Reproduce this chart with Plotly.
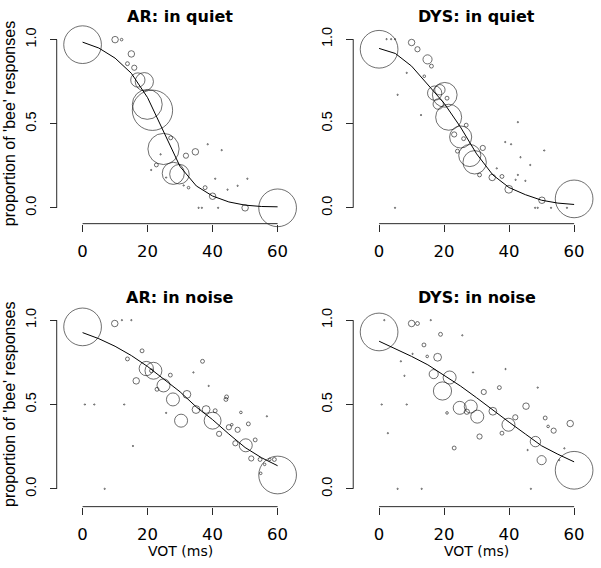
import plotly.graph_objects as go

# ---------------- data ----------------
vot_ticks = [0, 20, 40, 60]
vot_tick_labels = ["0", "20", "40", "60"]
prop_ticks = [0, 0.5, 1.0]
prop_tick_labels = ["0.0", "0.5", "1.0"]

panel_titles = ["AR: in quiet", "DYS: in quiet", "AR: in noise", "DYS: in noise"]
x_label = "VOT (ms)"
y_label = "proportion of 'bee' responses"

# AR in quiet: VOT, proportion, number of observations
ar_quiet_x = [0, 10, 12, 15, 13.8, 15.9, 17, 19, 19.9, 21.5, 24.9, 27.1, 24, 22.7, 21.1, 27.9, 29.8,
              31.8, 34.7, 32.6, 31.1, 25.7, 37.7, 40, 50, 60,
              35.7, 36.7, 38.5, 42.8, 40.8, 50.7, 44.6, 47.7, 41.7]
ar_quiet_y = [0.97, 1.0, 1.0, 0.915, 0.857, 0.833, 0.76, 0.75, 0.615, 0.58, 0.35, 0.416, 0.318, 0.255, 0.225, 0.205, 0.2,
              0.31, 0.333, 0.12, 0.133, 0.18, 0.12, 0.069, 0.0, 0.0,
              0.0, 0.0, 0.378, 0.343, 0.173, 0.173, 0.108, 0.131, 0.0]
ar_quiet_n = [29, 5, 2, 5, 3, 4, 11, 14, 23, 31, 24, 3, 1, 3, 1, 17, 15,
              4, 5, 2, 1, 1, 3, 5, 5, 29,
              1, 1, 1, 1, 1, 1, 1, 1, 1]

dys_quiet_x = [0, 2.3, 3.7, 4.9, 10, 11.8, 14.9, 16.1, 13.9, 8.5, 5.7, 17.1, 20.2, 18.7, 18.2, 20.9, 21.4,
               12.9, 26.8, 25.1, 23.1, 26, 27.9, 29.4, 24.1, 31.9, 30.9, 34.8, 37.8, 39.9,
               36.2, 38.8, 40.6, 42.7, 50.8, 43.5, 46.5, 42.7, 42, 45, 50.1, 48, 48.8, 52.9, 4.9, 57.8, 60]
dys_quiet_y = [0.94, 1.0, 1.0, 1.0, 0.98, 0.94, 0.88, 0.84, 0.78, 0.80, 0.67, 0.68, 0.67, 0.70, 0.615, 0.65, 0.537,
               0.55, 0.49, 0.42, 0.435, 0.41, 0.31, 0.27, 0.336, 0.355, 0.195, 0.18, 0.186, 0.11,
               0.234, 0.39, 0.377, 0.508, 0.34, 0.30, 0.254, 0.195, 0.166, 0.16, 0.045, 0.0, 0.0, 0.0, 0.0, 0.0, 0.053]
dys_quiet_n = [29, 1, 1, 1, 5, 4, 7, 3, 2, 1, 1, 11, 19, 8, 8, 3, 20,
               1, 3, 17, 4, 3, 17, 18, 3, 4, 3, 5, 3, 6,
               1, 1, 1, 1, 1, 1, 1, 1, 1, 1, 5, 1, 1, 1, 1, 1, 29]

ar_noise_x = [0, 9.9, 12.1, 15, 18.3, 13.8, 16.5, 19.6, 21.8, 21.2, 36.9, 34.1, 38.8, 27, 24.9, 22.9, 27.8,
              32.1, 30.3, 25.7, 34.9, 38, 40.8, 40, 44.1, 44.3, 42, 45, 45.9, 47.7, 48.7, 51, 47, 50.2,
              53.1, 51.9, 54.6, 56, 57.6, 59, 54.8, 56.7, 60, 0.7, 3.6, 12.8, 15.5, 6.8]
ar_noise_y = [0.96, 0.98, 1.0, 1.0, 0.818, 0.77, 0.64, 0.713, 0.70, 0.70, 0.756, 0.69, 0.61, 0.674, 0.613, 0.59, 0.53,
              0.56, 0.404, 0.45, 0.47, 0.47, 0.463, 0.404, 0.53, 0.545, 0.326, 0.365, 0.38, 0.35, 0.453, 0.385, 0.27, 0.258,
              0.29, 0.18, 0.174, 0.145, 0.174, 0.174, 0.092, 0.43, 0.082, 0.5, 0.5, 0.5, 0.254, 0.0]
ar_noise_n = [29, 5, 1, 1, 3, 3, 5, 11, 13, 3, 3, 1, 1, 3, 10, 3, 10,
              6, 10, 1, 6, 6, 3, 13, 3, 3, 4, 4, 2, 4, 2, 3, 4, 10,
              3, 4, 3, 2, 2, 3, 2, 1, 29, 1, 1, 1, 1, 1]

dys_noise_x = [0, 1.6, 10, 11.8, 15.9, 18.9, 25.6, 13.8, 14.8, 18, 10.3, 6.7, 7.8, 16.8, 21.7, 19.5, 28.9, 38.9,
               32.2, 37, 48.8, 24.8, 28.2, 27, 30.2, 20.9, 35, 45.2, 39.8, 41.9, 37.8, 30.9, 23.1, 51.1, 52,
               53.7, 58.8, 48.1, 50, 57, 55.4, 0.8, 8.5, 2.7, 5.7, 13.1, 46.7, 45.7, 60]
dys_noise_y = [0.93, 1.0, 0.98, 0.98, 1.0, 0.916, 0.91, 0.853, 0.785, 0.78, 0.80, 0.756, 0.67, 0.68, 0.66, 0.58, 0.69, 0.71,
               0.574, 0.60, 0.60, 0.48, 0.488, 0.457, 0.428, 0.45, 0.46, 0.49, 0.38, 0.424, 0.33, 0.31, 0.242, 0.42, 0.37,
               0.345, 0.387, 0.28, 0.17, 0.24, 0.17, 0.5, 0.5, 0.33, 0.0, 0.0, 0.0, 0.23, 0.11]
dys_noise_n = [29, 1, 5, 3, 1, 3, 1, 3, 2, 6, 1, 1, 1, 7, 10, 14, 1, 1,
               4, 3, 1, 10, 10, 4, 10, 2, 6, 5, 10, 4, 3, 4, 3, 3, 2,
               4, 5, 8, 7, 1, 1, 1, 1, 1, 1, 1, 1, 1, 29]

# fitted curves
curve_x = [0, 5, 10, 15, 20, 25, 30, 35, 40, 45, 50, 55, 60]
ar_quiet_fit = [0.985, 0.95, 0.89, 0.80, 0.655, 0.45, 0.245, 0.13, 0.07, 0.035, 0.016, 0.008, 0.006]
dys_quiet_fit = [0.945, 0.915, 0.84, 0.73, 0.62, 0.48, 0.32, 0.195, 0.12, 0.078, 0.045, 0.028, 0.02]
ar_noise_fit = [0.926, 0.89, 0.845, 0.79, 0.725, 0.65, 0.575, 0.485, 0.41, 0.325, 0.245, 0.185, 0.137]
dys_noise_fit = [0.875, 0.83, 0.785, 0.735, 0.675, 0.61, 0.54, 0.465, 0.395, 0.325, 0.255, 0.205, 0.16]

panels = [
    (ar_quiet_x, ar_quiet_y, ar_quiet_n, ar_quiet_fit),
    (dys_quiet_x, dys_quiet_y, dys_quiet_n, dys_quiet_fit),
    (ar_noise_x, ar_noise_y, ar_noise_n, ar_noise_fit),
    (dys_noise_x, dys_noise_y, dys_noise_n, dys_noise_fit),
]

# ---------------- layout geometry (pixels) ----------------
W, H = 601, 568
# x0px, x60px, y1px, y0px, x-axis line y, y-axis line x, title y
geom = [
    (83, 279, 35, 205, 221, 57, 12),
    (381, 577, 34.5, 205, 221, 355, 12),
    (83, 279, 318.5, 489, 507, 57, 296),
    (381, 577, 318.5, 489, 507, 355, 296),
]
XR = [-2.4, 62.4]
YR = [-0.04, 1.04]

def px_x(p):
    return p / W

def px_y(p):
    return 1 - p / H

fig = go.Figure()
layout = dict(width=W, height=H, margin=dict(l=0, r=0, t=0, b=0),
              paper_bgcolor="white", plot_bgcolor="white", showlegend=False)
shapes = []
annotations = []
AX = "#2a2a2a"

for i, ((px, py, pn, pfit), g) in enumerate(zip(panels, geom)):
    x0p, x60p, y1p, y0p, xaxy, yaxx, ty = g
    ppx = (x60p - x0p) / 60.0
    ppy = (y0p - y1p) / 1.0
    dl = x0p + XR[0] * ppx
    dr = x0p + XR[1] * ppx
    dt = y0p - YR[1] * ppy
    db = y0p - YR[0] * ppy
    k = "" if i == 0 else str(i + 1)
    xa, ya = "x" + k, "y" + k
    layout["xaxis" + k] = dict(
        domain=[px_x(dl), px_x(dr)], range=XR, anchor="free", position=px_y(xaxy),
        showgrid=False, zeroline=False, showline=False,
        ticks="outside", ticklen=7, tickwidth=1, tickcolor=AX,
        tickvals=vot_ticks, ticktext=vot_tick_labels, ticklabelstandoff=6,
        tickfont=dict(family="DejaVu Sans", size=16.5, color="black"))
    layout["yaxis" + k] = dict(
        domain=[px_y(db), px_y(dt)], range=YR, anchor="free", position=px_x(yaxx),
        showgrid=False, zeroline=False, showline=False,
        ticks="outside", ticklen=7, tickwidth=1, tickcolor=AX,
        tickvals=prop_ticks, ticktext=prop_tick_labels, tickangle=-90, ticklabelstandoff=8,
        tickfont=dict(family="Liberation Sans", size=14.5, color="black"))
    # axis lines spanning only the tick range (R style)
    shapes.append(dict(type="line", xref=xa, yref="paper", x0=vot_ticks[0], x1=vot_ticks[-1],
                       y0=px_y(xaxy), y1=px_y(xaxy), line=dict(color=AX, width=1)))
    shapes.append(dict(type="line", xref="paper", yref=ya, x0=px_x(yaxx), x1=px_x(yaxx),
                       y0=prop_ticks[0], y1=prop_ticks[-1], line=dict(color=AX, width=1)))

    fig.add_trace(go.Scatter(
        x=px, y=py, mode="markers", xaxis=xa, yaxis=ya, cliponaxis=False,
        marker=dict(symbol="circle-open", size=[1.3 * v for v in pn], sizemode="diameter",
                    color="#1a1a1a", line=dict(width=0.9, color="#1a1a1a"))))
    fig.add_trace(go.Scatter(
        x=curve_x, y=pfit, mode="lines", xaxis=xa, yaxis=ya, cliponaxis=False,
        line=dict(color="black", width=1)))

    annotations.append(dict(text=f"<b>{panel_titles[i]}</b>", xref=xa, yref="paper", x=30,
                            y=px_y(ty), xanchor="center", yanchor="middle", showarrow=False,
                            font=dict(family="DejaVu Sans", size=16, color="black")))
    if i in (0, 2):
        annotations.append(dict(text=y_label, xref="paper", yref=ya, x=px_x(9.5), y=0.5,
                                xanchor="center", yanchor="middle", textangle=-90, showarrow=False,
                                font=dict(family="Liberation Sans", size=16, color="black")))
    if i in (2, 3):
        annotations.append(dict(text=x_label, xref=xa, yref="paper", x=30, y=px_y(552),
                                xanchor="center", yanchor="middle", showarrow=False,
                                font=dict(family="DejaVu Sans", size=14, color="black")))

layout["shapes"] = shapes
layout["annotations"] = annotations
fig.update_layout(**layout)
fig.write_html("out.html", config={"displayModeBar": False},
               post_script="document.body.style.margin='0px';")
